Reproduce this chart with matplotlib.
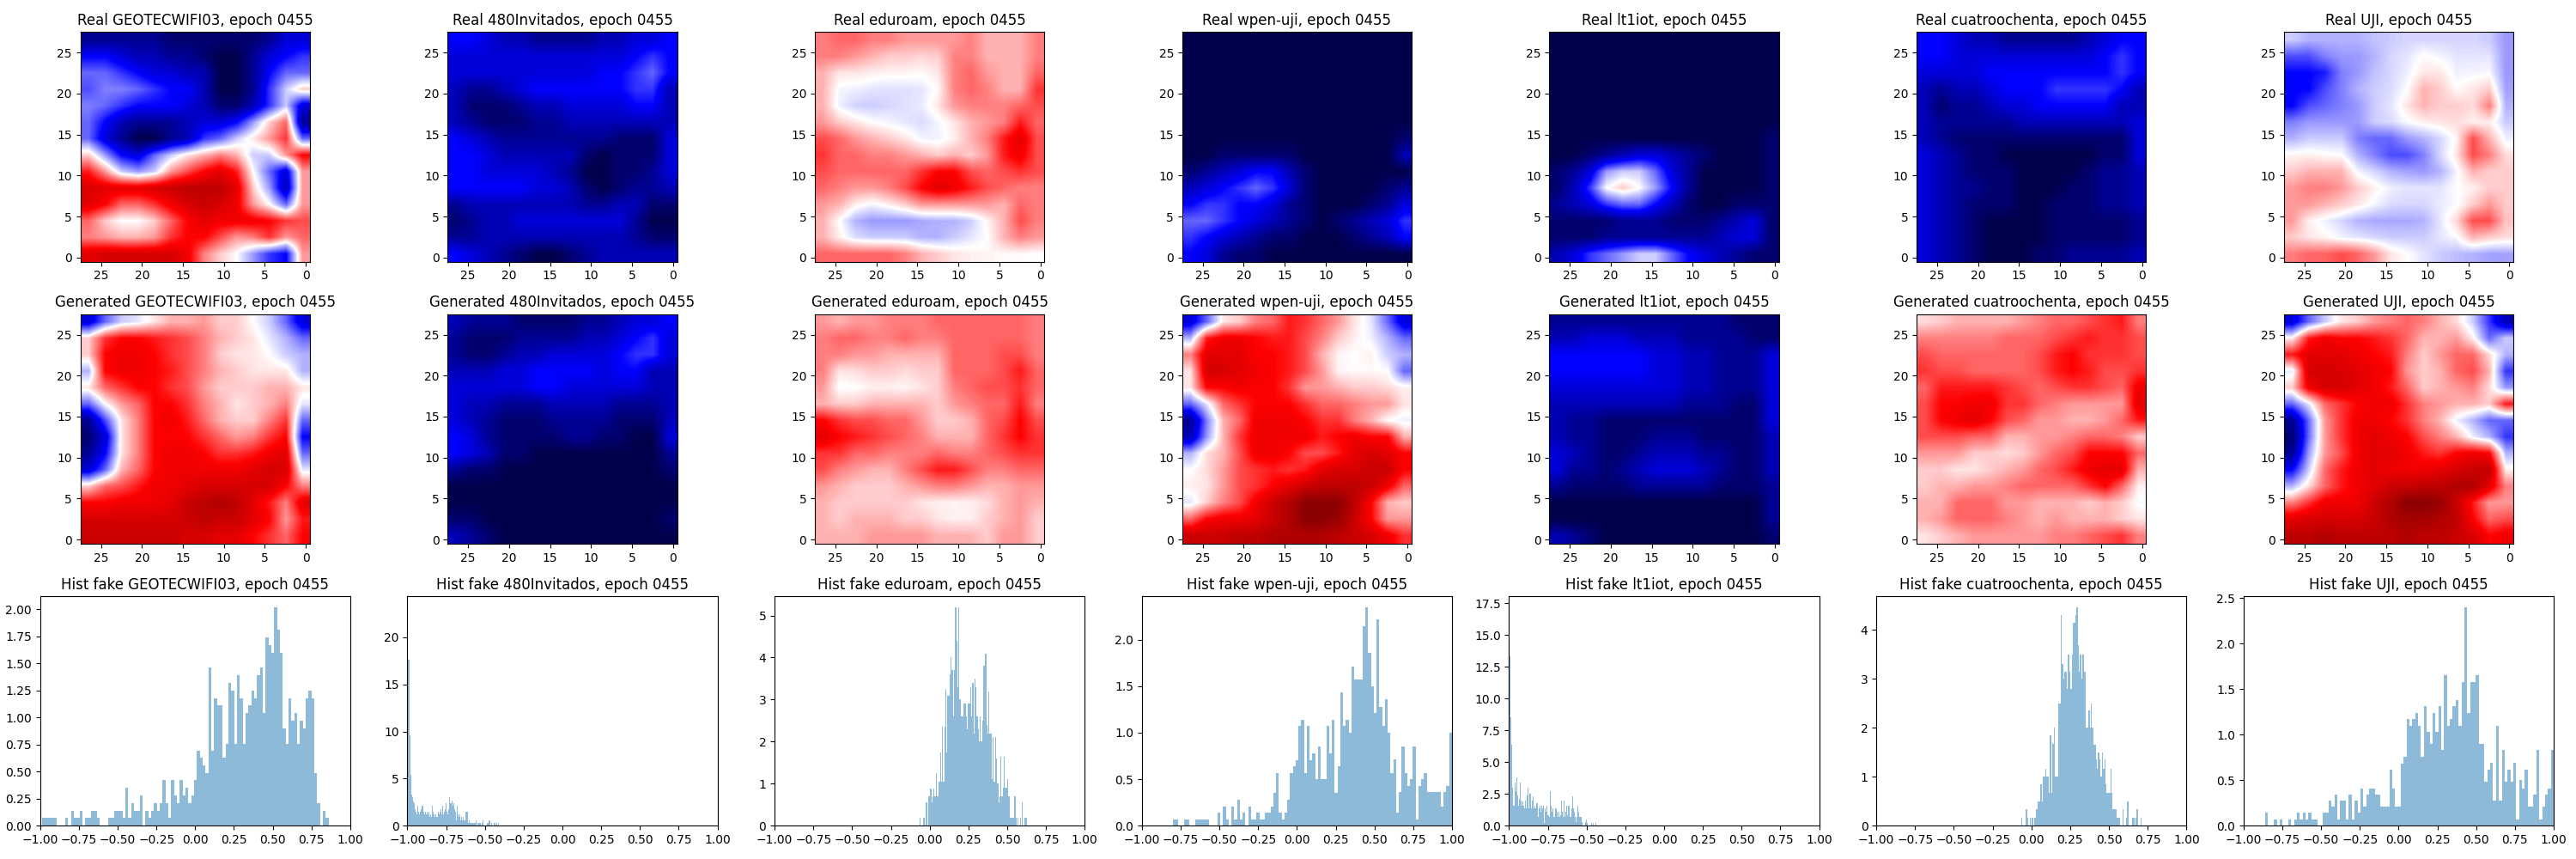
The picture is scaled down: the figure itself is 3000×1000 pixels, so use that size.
import matplotlib
matplotlib.use('Agg')
import matplotlib.pyplot as plt
import numpy as np

epoch = '0455'
names = ['GEOTECWIFI03', '480Invitados', 'eduroam', 'wpen-uji', 'lt1iot', 'cuatroochenta', 'UJI']

# heatmaps, tenths of the [-1, 1] range, read on a 14x14 grid, top row first, left column first
real_geotec = [
    [-8,-8,-8,-8,-8,-9,-9,-9,-9,-9,-9,-8,-6,-6],
    [-5,-5,-6,-7,-7,-8,-8,-9,-10,-10,-8,-6,-5,-4],
    [-3,-3,-4,-5,-6,-6,-7,-7,-10,-10,-8,-5,-3,-3],
    [-3.5,-2.5,-2.5,-3,-4,-5,-5,-7,-10,-10,-8,-4,-1,1],
    [-2.5,-3,-4,-5,-5,-5,-6,-7,-9,-9,-7,-4,-1,-6],
    [-3,-5,-7,-8,-8,-8,-7,-6,-6,-5,-2,1,3,-8],
    [-3,-6,-8,-10,-10,-8,-7,-4,-3,-1,.5,2,4,-3],
    [1,-2,-5,-6,-3,-1,.5,1.5,2.5,1.5,-1,-1,2,5],
    [4.5,2,-1,-2,-1,2,3.5,5,6,4.5,0,-3,-6,2],
    [6.5,6,6,6,6.5,7,7.5,7.5,7.5,6,1,-2,-7,2],
    [6,5,3,3,4,5.5,6.5,7,6.5,5.5,2,0,-3,2],
    [3,1,0,0,1,3,5,6,5.5,5.5,5.5,5,4,3.5],
    [2.5,2,1.5,1.5,2,4,5,5,3.5,2,2.5,4,2,3],
    [6,6.5,6.5,6.5,6.5,6.5,5.5,2.5,1,0,-2,-4,-5,2],
]
real_480 = [
    [-5,-5,-6,-7,-7,-8,-8,-8,-8,-7,-7,-6,-6,-5],
    [-6,-6,-6,-6,-6,-6,-6,-6,-6,-6,-6,-5,-4,-5],
    [-6,-6,-6,-6,-6,-6,-6,-6,-6,-5,-5,-4,-3,-5],
    [-7,-8,-8,-7,-6,-5,-5,-5,-5,-5,-5,-4,-4,-7],
    [-7,-9,-9,-9,-8,-7,-7,-6,-6,-6,-6,-5,-5,-7],
    [-7,-8,-9,-9,-9,-8,-8,-7,-7,-7,-7,-7,-7,-7],
    [-5,-6,-7,-8,-8,-8,-8,-8,-8,-8,-9,-9,-9,-6],
    [-5,-5,-6,-7,-7,-7,-7,-7,-9,-10,-9,-9,-9,-6],
    [-5,-5,-6,-6,-6,-6,-7,-8,-10,-10,-9,-9,-8,-6],
    [-5,-5,-5,-5,-5,-6,-6,-7,-9,-10,-9,-8,-8,-7],
    [-8,-7,-7,-7,-7,-7,-7,-7,-8,-8,-7,-7,-9,-9],
    [-9,-8,-7,-7,-6,-6,-6,-6,-6,-6,-6,-8,-10,-10],
    [-8,-8,-7,-7,-7,-7,-7,-7,-7,-7,-7,-8,-9,-9],
    [-5,-6,-7,-8,-9,-10,-10,-9,-8,-7,-7,-7,-7,-7],
]
real_eduroam = [
    [2.5,3,3,2.5,2.5,2,2,2,2,2.5,1.5,1.5,1.5,2.5],
    [2.5,2.5,2,1.5,1,1,.8,1,2.5,2.5,1.5,1.5,1.5,2.5],
    [1.5,.5,.5,.3,.2,.2,.1,.5,2.5,3,2,1.5,1.5,3],
    [1.5,-.2,-.3,-.5,-.6,-.6,-.5,.1,2.5,3,2.5,1.5,1.5,4],
    [1.5,-.3,-.9,-1,-.8,-.6,-.4,.5,2,2.5,2.5,2.5,3,3.5],
    [2,1,.5,0,-.2,-.5,-.7,-.2,.5,1.5,2,2.5,4.5,3],
    [3.5,3,2,1.5,1,.5,-.2,-.3,.3,1.5,2.5,4.5,6,3.5],
    [4,3,3,2.5,2.5,2,1.5,1,1.5,1,2,4.5,5.5,3.5],
    [3.5,3,3,3,3,3,4,5,5,3.5,3,3.5,4,3.5],
    [3,2.5,2,2,2.5,3.5,5,6,5.5,4.5,3.5,3,2.5,2.5],
    [2,1.5,.3,-.2,.3,1,2,2,2,2,2,1.5,3,2.5],
    [1.5,0,-1.5,-2,-2,-2,-1.7,-1.5,-1.5,-1,.2,1.5,3.5,2.5],
    [1.5,.3,-.7,-1,-1,-1,-1.5,-1.5,-1,-.5,0,1.5,2.5,2],
    [3,3,3,3,3,2.5,1.5,1,.5,.3,.2,.1,.1,0],
]
real_wpen = [
    [-10,-10,-10,-10,-10,-10,-10,-10,-10,-10,-10,-10,-10,-10],
    [-10,-10,-10,-10,-10,-10,-10,-10,-10,-10,-10,-10,-10,-10],
    [-10,-10,-10,-10,-10,-10,-10,-10,-10,-10,-10,-10,-10,-10],
    [-10,-10,-10,-10,-10,-10,-10,-10,-10,-10,-10,-10,-10,-10],
    [-10,-10,-10,-10,-10,-10,-10,-10,-10,-10,-10,-10,-10,-10],
    [-10,-10,-10,-10,-10,-10,-10,-10,-10,-10,-10,-10,-10,-10],
    [-10,-10,-10,-10,-10,-10,-10,-10,-10,-10,-10,-10,-10,-9],
    [-10,-10,-9,-9,-9,-9,-9,-10,-10,-10,-10,-10,-10,-7],
    [-9,-8,-7,-6,-5,-5,-7,-9,-10,-10,-10,-10,-10,-10],
    [-7,-6,-5,-4,-3,-4,-6,-9,-10,-10,-10,-10,-9,-8],
    [-5,-4,-4,-5,-5,-6,-8,-9,-10,-10,-10,-9,-8,-6],
    [-3,-3,-4,-5,-6,-7,-8,-9,-10,-9,-8,-7,-6,-4],
    [-4,-5,-6,-7,-8,-9,-9,-10,-10,-10,-9,-8,-7,-5],
    [-5,-6,-8,-9,-9,-10,-10,-10,-10,-10,-10,-10,-10,-10],
]
real_lt1 = [
    [-10,-10,-10,-10,-10,-10,-10,-10,-10,-10,-10,-10,-10,-10],
    [-10,-10,-10,-10,-10,-10,-10,-10,-10,-10,-10,-10,-10,-10],
    [-10,-10,-10,-10,-10,-10,-10,-10,-10,-10,-10,-10,-10,-10],
    [-10,-10,-10,-10,-10,-10,-10,-10,-10,-10,-10,-10,-10,-10],
    [-10,-10,-10,-10,-10,-10,-10,-10,-10,-10,-10,-10,-10,-10],
    [-10,-10,-10,-10,-10,-10,-10,-10,-10,-10,-10,-10,-10,-10],
    [-10,-10,-10,-10,-10,-10,-10,-10,-10,-10,-10,-10,-10,-9],
    [-10,-10,-9,-8,-7,-6,-6,-7,-8,-9,-10,-10,-10,-9],
    [-9,-8,-6,-2,-1,-1,-3,-6,-8,-10,-10,-10,-10,-9],
    [-9,-7,-4,0,1,0,-2,-5,-8,-10,-10,-10,-10,-9],
    [-8,-7,-6,-4,-3,-3,-5,-7,-9,-10,-10,-9,-9,-9],
    [-9,-9,-9,-9,-8,-8,-8,-9,-9,-9,-8,-7,-6,-9],
    [-9,-9,-9,-8,-8,-8,-8,-8,-8,-8,-7,-6,-6,-9],
    [-7,-6,-4,-3,-2,-1,-1,-3,-5,-6,-7,-8,-9,-9],
]
real_cuatro = [
    [-5,-5,-6,-7,-7,-8,-8,-8,-8,-8,-7,-6,-5,-5],
    [-5,-5,-6,-6,-6,-6,-6,-6,-6,-6,-6,-5,-4,-5],
    [-6,-6,-6,-6,-5,-5,-5,-5,-5,-5,-5,-5,-4,-5],
    [-7,-8,-7,-7,-6,-5,-5,-5,-4,-4,-4,-4,-5,-7],
    [-7,-9,-8,-8,-7,-6,-6,-5,-5,-5,-5,-5,-7,-7],
    [-7,-8,-8,-8,-8,-8,-7,-7,-7,-7,-7,-7,-7,-6],
    [-7,-8,-9,-9,-9,-9,-9,-9,-9,-9,-9,-9,-9,-6],
    [-6,-7,-8,-9,-9,-10,-10,-10,-10,-10,-10,-9,-9,-6],
    [-6,-7,-8,-9,-9,-9,-10,-10,-10,-10,-9,-8,-8,-7],
    [-6,-7,-8,-8,-9,-9,-10,-10,-10,-9,-9,-8,-8,-7],
    [-6,-7,-8,-9,-9,-9,-10,-10,-9,-9,-9,-8,-8,-7],
    [-6,-7,-8,-9,-10,-10,-10,-10,-9,-9,-9,-9,-9,-8],
    [-6,-7,-8,-9,-10,-10,-10,-10,-9,-9,-9,-9,-9,-8],
    [-6,-7,-8,-9,-10,-10,-10,-9,-9,-8,-8,-8,-8,-7],
]
real_uji = [
    [-1,-1.5,-1.5,-1.5,-1.5,-1.2,-1,-.8,-.8,-.8,-.8,-.8,-1,-2],
    [-3.5,-3.5,-2.5,-2,-2,-1.5,-.8,-.5,.1,-.2,-.5,-.5,-.5,-2],
    [-5,-5,-4.5,-2.5,-2,-1.2,-.8,-.3,.5,.5,-.3,-.2,-.1,-2],
    [-5,-5,-3.5,-2.5,-1.5,-1,-.7,0,1.5,1,.1,.5,1,-1.8],
    [-5,-3.5,-3,-2.5,-2,-1,-.5,.5,1.5,1,1,.7,2.5,-1.5],
    [-2.5,-2,-2,-2,-2,-1,-.7,-.1,.3,.5,.7,.3,.3,-1],
    [-1.5,-1,-1,-1,-2.5,-3,-3,-2,-1.5,-.8,.2,3.5,1.5,-.3],
    [.2,.3,.1,0,-1.5,-2.5,-3.5,-3.5,-2.5,-.8,.5,3.5,2.5,.7],
    [1,1.5,1.5,1.5,-.2,-.8,-1.5,-1.8,-2,-1.5,-.2,1.5,1,1],
    [2,2.5,2.5,2,1,.3,-.3,-.5,-.5,-.5,0,.3,1,1],
    [2,2,1.5,1,.5,-.2,-.7,-.8,-.8,-.4,-.1,1,2,1],
    [2,.3,-.3,-.8,-1.5,-1.7,-1.7,-1.7,-1.5,-.5,.8,3.5,3.5,1.2],
    [1,.5,.2,-.3,-.5,-.8,-1,-1,-1,-.5,-.1,1.5,1,.7],
    [2.5,3,3,3.5,3,2,.5,0,-.5,-1,-1.3,-1.5,-1.8,-1.8],
]

gen_geotec = [
    [-6,-3,-1,-.5,.5,1.5,1.5,2,1,1,0,-1,-3,-6],
    [1,4,5,5,4.5,4,3.5,2.5,1.5,1,.5,-.5,-1.5,-3],
    [1,5,5.5,5.5,5,4,3.5,2.5,1,.5,.5,0,-1,-1.5],
    [-1.5,5,5.5,5.5,5,4.5,3.5,2.5,1.5,1,.5,.5,.5,-1.5],
    [.5,3,4,5,5,4,3.5,2,1,1,1,1.5,1.5,.5],
    [-3,0,2,3,5,5,4,2.5,1.5,.5,1,1.5,2.5,-.5],
    [-8,-3.5,.5,2.5,5,5.5,4.5,3,1.5,1,1,2.5,4,-3],
    [-9,-6,.5,2.5,5,5,5,4,3,2,2.5,4,5,-5],
    [-8,-5,.5,2.5,5,5.5,5.5,5,4,4,4.5,5.5,6,-3],
    [-6,-3,1.5,3,5,5.5,5.5,5.5,5.5,5.5,6,6.5,6.5,-.5],
    [1,3,3.5,4.5,5.5,5.5,6,6.5,6.5,6.5,6.5,6.5,5,2.5],
    [5,5,5.5,5.5,5.5,6,7,7.5,8,7.5,6,4.5,2.5,6],
    [6.5,6.5,6.5,6.5,6.5,6.5,7,7.5,7,7,6,5,2,4.5],
    [7,7,7,7,7,7,6.5,6.5,6,6,5,4,3,5],
]
gen_480 = [
    [-7,-8,-8,-8,-9,-9,-9,-9,-8,-8,-7,-6,-6,-5],
    [-8,-9,-9,-9,-8,-8,-8,-8,-7,-7,-6,-5,-4,-6],
    [-8,-9,-9,-8,-7,-7,-6,-6,-6,-6,-5,-4,-4,-6],
    [-7,-7,-7,-6,-6,-5,-5,-5,-5,-6,-5,-5,-7,-7],
    [-6,-6,-6,-6,-6,-5,-5,-6,-6,-6,-6,-6,-7,-7],
    [-6,-7,-7,-8,-8,-8,-7,-7,-7,-7,-8,-8,-8,-7],
    [-6,-7,-8,-9,-9,-9,-8,-8,-8,-8,-9,-9,-9,-7],
    [-5,-6,-8,-9,-9,-9,-9,-8,-8,-9,-9,-10,-10,-6],
    [-5,-6,-7,-9,-9,-10,-10,-10,-10,-10,-10,-10,-10,-8],
    [-8,-9,-9,-10,-10,-10,-10,-10,-10,-10,-10,-10,-10,-9],
    [-10,-10,-10,-10,-10,-10,-10,-10,-10,-10,-10,-10,-10,-10],
    [-10,-10,-10,-10,-10,-10,-10,-10,-10,-10,-10,-10,-10,-10],
    [-9,-9,-10,-10,-10,-10,-10,-10,-10,-10,-10,-10,-10,-9],
    [-7,-8,-9,-10,-10,-10,-10,-10,-10,-10,-10,-10,-10,-10],
]
gen_eduroam = [
    [2,1.5,2,2,2.5,2.5,2.5,3,3,3,3,3,3,2.5],
    [2.5,3,3,2.5,2.5,3,2.5,2.5,3,3,3,3,3,2.5],
    [2.5,2.5,2,2,1.5,1.5,1.5,1.5,3,3,3,3.5,3.5,2.5],
    [2.5,.5,.7,1,1,.7,1,1,3,3,3,3.5,4.5,3],
    [2,-.1,0,.3,.3,.2,.5,1,2.5,3,3.5,3.5,4,3],
    [1.5,1,1,1.5,1.5,1.5,1.5,1,2,2.5,3,3,4.5,2.5],
    [5,4,3.5,3.5,3,3,2,1,1,1.5,3,3.5,5,3.5],
    [6,5,4.5,4,3.5,3,2.5,1.5,1.5,1.5,3,4,5,4],
    [4,4,3,3,2.5,2.5,2.5,3,2.5,2.5,3,3.5,4,4],
    [3.5,2.5,2,1.5,1.5,2.5,3.5,4.5,4.5,3.5,2.5,2.5,3,3],
    [2,1.5,1,1,1,1.5,2,2.5,2.5,2,1.5,1.5,2,2],
    [1.5,1,1,1,1,1,.5,.3,.2,.3,.7,1.5,2,1.5],
    [1.5,1,1.5,1.5,1.5,1,1,.5,.3,.3,1,1.5,2,1],
    [1.5,1.5,1.5,2,2,2,2,1.5,1.5,1.5,1,2,2,1],
]
gen_wpen = [
    [-6,-3,.5,1,2.5,3,4.5,4,3,2,.5,-.5,-3,-6],
    [-1.5,4.5,5.5,5.5,5,4.5,4.5,3.5,2.5,1,.3,-.3,-1.5,-3],
    [2.5,6,6,6,5,5,4.5,3.5,1.5,.2,0,.3,-1,-1.5],
    [.5,6.5,6.5,6,5.5,5,4.5,3.5,2,.2,.1,.1,0,-3],
    [.5,5,5,5.5,5,5,4,2,2,1.5,1,1,.7,.3],
    [-3,-.5,3,4,5,5,5,4,3,3,2.5,2,2,.5],
    [-8,-2.5,1.5,3,5.5,5.5,5.5,5,4,4,2.5,1.5,0,-.3],
    [-7,-2,1.5,4,5.5,5.5,5.5,5.5,4.5,5,5.5,5,5,1.5],
    [-1.5,.7,1.5,3.5,5.5,5.5,5,3.5,3.5,4.5,6,6.5,6,5],
    [0,.7,2,3.5,4,4.5,4,4.5,6,6.5,6.5,7,7,5],
    [.3,.5,2,3.5,4,5,6,7,7.5,7.5,7.5,7,5.5,3],
    [-.5,1,2.5,3.5,5.5,7,8,9.5,9.5,9.5,7.5,5,1.5,1],
    [3,5,5.5,5.5,6,7,8,9.5,9.5,9,7,5,2,2],
    [7,7,7,7.5,7.5,8,8,8,8,7.5,7,6.5,5.5,4],
]
gen_lt1 = [
    [-8,-8,-8,-8,-8,-8,-8,-8,-8,-8,-8,-9,-9,-9],
    [-7,-7,-6,-6,-6,-7,-7,-7,-8,-8,-8,-8,-9,-9],
    [-5,-5,-5,-5,-5,-5,-6,-6,-7,-7,-8,-8,-8,-6],
    [-5,-5,-5,-5,-5,-5,-6,-6,-7,-7,-8,-8,-8,-6],
    [-6,-6,-6,-6,-6,-6,-6,-6,-7,-7,-8,-8,-8,-6],
    [-7,-7,-7,-7,-7,-7,-7,-7,-8,-8,-8,-9,-9,-6],
    [-7,-8,-8,-9,-9,-9,-9,-9,-9,-9,-9,-9,-9,-6],
    [-7,-8,-8,-9,-9,-9,-8,-8,-8,-9,-9,-9,-9,-7],
    [-6,-7,-8,-9,-9,-8,-7,-7,-7,-8,-8,-9,-9,-7],
    [-6,-8,-8,-9,-8,-7,-6,-6,-6,-7,-8,-9,-9,-7],
    [-8,-9,-9,-9,-9,-8,-8,-8,-8,-8,-9,-9,-9,-8],
    [-10,-10,-10,-10,-10,-10,-10,-10,-10,-10,-10,-10,-10,-8],
    [-10,-10,-10,-10,-10,-10,-10,-10,-10,-10,-10,-10,-10,-8],
    [-7,-8,-9,-10,-10,-10,-10,-10,-10,-10,-10,-10,-10,-9],
]
gen_cuatro = [
    [.7,1,1.5,1.5,1.5,1.5,2,2.5,3,3,3.5,4,4.5,2.5],
    [2.5,2.5,2.5,2.5,2.5,3,3,3,3.5,4,4.5,4,4,3.5],
    [3.5,3,3,3,3,3,3,3.5,4.5,5,4,4,4,3.5],
    [4,3.5,3.5,3,3,3,3,3.5,4.5,5,4.5,3.5,3.5,4],
    [3,4.5,4.5,4.5,4.5,4,3.5,3,3.5,4,4,3.5,3,5.5],
    [3.5,5,5,5.5,5.5,4,4,3,2.5,2,2,2,2,6],
    [3.5,5,5.5,6,5,3.5,3,2,2,1.5,1.5,2,3,4.5],
    [3.5,3.5,3.5,3,3,1.5,1.5,2,2,2.5,3,3,2.5,1],
    [2,2,2,1,1,.7,1,2,3,3.5,5,5,5,3],
    [1,1,.5,.5,1,1.5,2,3,3.5,4.5,5.5,6,6,1.5],
    [1,1.5,1.5,2,2,2.5,3,3,3,3,4,5,3,.3],
    [1.5,1.5,3,3,3,2,2,1.5,1.5,1.5,1,1.5,1,-.1],
    [1.5,2,3,3,3,2.5,2,1.5,2,1.5,1.5,1.5,1,.5],
    [.5,1,1.5,2,2,2,2,2,2.5,2.5,3,3.5,4,2.5],
]
gen_uji = [
    [-6,-3,-1,.5,1,2,2.5,3,2.5,1.5,.7,-1,-4,-7],
    [.3,4.5,5.5,5,5,4.5,4,3,1.5,1.5,2,.3,-3,-1],
    [4.5,6,6,6,5.5,5,4.5,2.5,1,2,3,3,.7,-1.5],
    [-.5,6.5,6.5,6.5,6,5.5,5,2,1,1.5,3,3.5,1.5,-4],
    [1,5.5,6.5,6.5,6,5.5,4.5,3,1,1.5,2,2.5,.7,-2],
    [-3,-.5,3,4,5,5.5,5.5,4,2.5,2,1.5,1.5,1,4.5],
    [-8,-3,2,4,5.5,5.5,5,4,2.5,1.5,-.3,-1.5,-3,-3],
    [-9,-3,2,4,5.5,6,5.5,5,3.5,2.5,1.5,-.3,-1.5,-4],
    [-8,-2,2,3.5,5.5,6,6,5.5,4.5,4,5,5.5,5,-1.5],
    [-5,-1,3,4.5,5.5,6,5.5,5.5,5.5,6,6.5,7,7.5,.3],
    [-1.5,.7,3,4.5,5.5,6,7,7,7.5,7.5,8,8,6,2.5],
    [2.5,4,5.5,5.5,5.5,7,8,9.5,9.5,9,7,4.5,2,2],
    [6,6.5,6.5,6.5,6.5,7,8,8.5,8.5,8,7.5,5,3,3.5],
    [7.5,7.5,8,7.5,7.5,7.5,7.5,8,7.5,7.5,7,6.5,5,5.5],
]

# histogram bin heights (density) and the value range they cover
hist_geotec = [.07,.07,.07,.07,.07,0,0,0,.07,0,.14,.07,.07,.14,0,.07,.07,.14,.14,.07,0,0,0,.07,.07,.14,.14,.14,.07,.35,
    .07,.21,.14,.14,.28,0,.14,.07,.14,.21,.14,.21,.42,.21,.07,.42,.28,.21,.42,.28,.35,.21,.28,.42,.69,.63,.56,.49,1.46,.69,
    1.18,1.11,1.11,.63,.76,1.32,1.25,.76,1.39,1.18,.76,1.04,1.11,1.25,1.18,1.39,1.46,1.04,1.74,1.67,1.6,2.02,1.81,1.6,.9,.76,1.18,.97,1.04,.76,
    .97,.9,1.18,1.25,1.18,.49,.21,0,.14,.07]
hist_480 = [23.2,17.6,9.6,5.4,3.3,3.0,2.6,2.4,1.8,1.5,1.2,2.1,1.5,1.2,1.5,1.8,2.1,1.5,1.2,1.5,1.2,1.5,1.2,1.5,.9,1.2,.9,2.1,1.5,1.2,
    .9,1.2,.9,1.5,1.2,1.5,1.8,1.2,2.1,1.2,1.5,1.8,2.4,1.5,1.2,1.8,3.0,2.4,2.7,2.1,2.4,1.8,1.5,.6,2.1,1.2,.9,1.2,.6,.9,
    .6,.9,.6,1.5,1.5,1.5,.3,.6,.3,.3,.3,.3,.3,.3,.3,.6,0,.3,.3,.3,0,.3,.6,0,0,0,0,.3,.3,.6,
    .6,0,.3,0,.3,.3,0,.3,0,.3]
hist_eduroam = [.18,0,0,.18,.18,0,.55,0,.7,.7,.88,.55,.7,.88,.7,1.25,.7,.7,1.05,1.75,1.05,2.35,1.05,2.35,3.25,1.75,3.1,3.1,3.6,4.0,
    3.7,2.6,3.7,5.2,4.4,3.3,5.2,3.0,2.6,2.6,2.6,2.9,2.9,2.6,2.3,2.9,2.9,3.3,2.6,3.4,2.2,3.5,3.3,2.6,2.3,2.0,2.6,2.0,2.5,3.8,
    3.8,4.1,2.4,2.2,3.2,2.2,2.2,1.1,2.1,1.05,2.1,1.6,1.0,.55,.7,1.65,.7,.9,1.65,.9,.9,1.1,.7,.7,.18,.18,.18,.18,.7,.18,
    0,.18,0,.18,0,.55,0,.18,.18,.18]
hist_wpen = [.07,.07,0,0,.07,.07,0,0,.07,.07,.07,.07,.07,0,0,0,.14,0,.21,.07,0,.21,.07,.28,.07,.14,0,.21,.07,.07,
    .14,.07,.07,.14,.14,.21,.35,.57,.14,.07,.14,.28,.57,.64,.7,1.07,1.14,.57,1.07,.7,.78,.5,.85,.5,.5,1.07,.78,1.14,.35,.64,
    1.43,1.07,1.14,1.0,1.71,1.57,1.57,1.57,2.14,2.35,1.86,1.5,1.21,2.22,1.28,1.07,1.36,1.0,.57,.71,.14,.36,.85,.57,.43,.5,.85,.07,.43,.5,
    .57,.36,.36,.36,.36,.36,.21,.36,.43,1.0]
hist_lt1 = [17.2,13.3,8.5,6.4,3.0,1.6,3.4,2.7,3.8,2.4,1.6,2.1,3.4,2.0,1.6,1.9,1.6,1.4,2.0,1.4,2.4,3.0,1.4,2.5,2.5,1.4,2.0,2.3,1.4,1.6,
    1.4,1.8,1.8,.7,1.4,1.6,1.1,1.6,1.4,1.6,.2,1.4,1.1,1.6,.8,.8,.7,2.7,1.6,1.1,1.4,.7,.7,1.4,1.4,1.1,.7,1.1,.7,.8,
    2.0,1.1,.7,2.0,.7,1.1,1.6,.8,1.6,1.6,.7,.7,1.4,2.3,1.4,1.1,.7,.3,.7,1.6,1.1,.7,.7,.7,.3,0,0,0,.3,.5,
    .2,0,0,0,.2,0,.2,0,0,.2]
hist_cuatro = [.17,0,0,0,.34,.17,0,.17,0,.17,0,.17,.34,.34,.5,.5,.84,.5,1.0,1.0,1.17,1.0,1.0,.67,1.84,.67,1.67,2.0,1.0,1.0,
    1.0,2.5,2.5,4.3,3.3,3.0,3.15,3.15,2.8,3.5,3.15,2.8,3.5,4.15,4.15,4.3,4.47,3.7,3.15,3.5,3.0,3.5,3.15,3.15,2.0,2.0,2.35,2.0,2.5,2.0,
    1.65,1.65,1.35,1.17,1.5,1.35,1.0,1.5,1.17,1.35,.84,.67,.67,.67,1.17,.67,.34,.34,.34,.17,.17,.17,0,0,.34,0,0,.17,.5,0,
    0,0,.17,.17,0,.17,.34,0,0,.17]
hist_uji = [.14,0,0,.07,0,.07,0,0,.07,0,.07,.14,.07,.14,.07,.14,.07,.07,0,0,.14,.14,.28,.21,.34,.07,.28,.28,.07,.34,
    .07,.28,.14,.41,.21,.34,.41,.41,.34,.34,.21,.21,.21,.62,.41,.21,.21,.68,.76,1.17,1.1,1.17,1.24,1.1,.76,1.31,1.03,.9,1.24,1.03,
    1.31,.83,1.65,1.1,1.17,1.31,1.38,1.1,1.58,2.4,1.24,1.58,1.58,1.65,.9,.9,.48,.62,.69,.28,1.1,.28,.83,.48,.62,.48,.69,.07,.5,.41,
    .62,.21,.21,.34,.83,.07,.21,.34,.41,.83]
hist_ranges = [(-0.985, 0.86), (-1.0, -0.41), (-0.066, 0.63), (-0.8, 1.0), (-1.0, -0.44), (-0.066, 0.71), (-0.86, 1.0)]

reals = [real_geotec, real_480, real_eduroam, real_wpen, real_lt1, real_cuatro, real_uji]
gens = [gen_geotec, gen_480, gen_eduroam, gen_wpen, gen_lt1, gen_cuatro, gen_uji]
hists = [hist_geotec, hist_480, hist_eduroam, hist_wpen, hist_lt1, hist_cuatro, hist_uji]

fig, axs = plt.subplots(3, 7, figsize=(30, 10))

for i, name in enumerate(names):
    for row, grids, label in [(0, reals, 'Real'), (1, gens, 'Generated')]:
        ax = axs[row, i]
        ax.imshow(np.array(grids[i]) / 10, cmap='seismic', vmin=-1, vmax=1, interpolation='bilinear',
                  origin='upper', extent=(27.5, -0.5, -0.5, 27.5))
        ax.set_xticks([0, 5, 10, 15, 20, 25])
        ax.set_yticks([0, 5, 10, 15, 20, 25])
        ax.set_title(f'{label} {name}, epoch {epoch}')

    ax = axs[2, i]
    heights = np.array(hists[i])
    edges = np.linspace(hist_ranges[i][0], hist_ranges[i][1], len(heights) + 1)
    ax.hist(edges[:-1], bins=edges, weights=heights, alpha=0.5)
    ax.set_xlim(-1, 1)
    ax.set_title(f'Hist fake {name}, epoch {epoch}')

fig.tight_layout()
plt.savefig('out.png', dpi=100)
